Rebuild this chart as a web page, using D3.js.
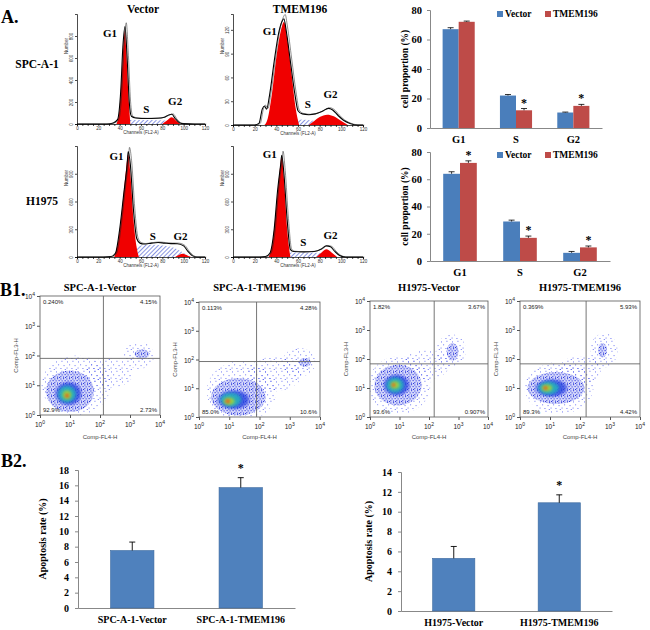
<!DOCTYPE html>
<html>
<head>
<meta charset="utf-8">
<script src="https://cdn.jsdelivr.net/npm/d3@7"></script>
<style>
body { margin: 0; background: #fff; }
svg { display: block; }
text { font-family: "Liberation Serif", "Times New Roman", serif; }
text.sans, text.sans tspan { font-family: "Liberation Sans", Arial, sans-serif; }
</style>
</head>
<body>
<svg id="fig" width="650" height="630"></svg>
<script>
/* global d3 */

// ---- A. cell cycle bar charts ----
var phases = ["G1", "S", "G2"];
var seriesNames = ["Vector", "TMEM196"];
var spcVector = [67, 22, 10.5];
var spcVectorErr = [1, 0.7, 0.3];
var spcTmem = [72, 12, 15];
var spcTmemErr = [0.5, 1.2, 1];
var spcStars = [false, true, true];
var h1975Vector = [64, 29, 6];
var h1975VectorErr = [1.5, 1, 1];
var h1975Tmem = [72, 17, 10];
var h1975TmemErr = [1.5, 1.3, 1];
var h1975Stars = [true, true, true];
var proportionTicks = [0, 20, 40, 60, 80];

// ---- A. DNA histograms: [channel, count] ----
var channelTicks = [0, 20, 40, 60, 80, 100, 120];
var spcVecOutline = [[0,0],[28,0],[34,10],[38,40],[41,300],[43,700],[45,885],[47,600],[49,200],[51,70],[55,55],[65,50],[75,52],[82,62],[86,82],[89,88],[92,50],[96,12],[100,3],[110,0],[120,0]];
var spcVecG1 = [[37,0],[40,150],[42,450],[44,780],[45,850],[46,700],[48,300],[50,0]];
var spcVecS = [[40,0],[43,30],[50,36],[70,36],[85,30],[92,10],[95,0]];
var spcVecG2 = [[80,0],[84,30],[89,62],[93,30],[97,0]];
var spcVecYTicks = [0, 200, 400, 600, 800];

var spcTmOutline = [[0,0],[20,0],[24,2],[27,20],[29,24],[31,20],[34,40],[38,80],[42,115],[45,130],[47,134],[49,120],[53,80],[57,40],[60,18],[64,14],[70,13],[76,14],[82,17],[88,21],[92,19],[97,12],[102,6],[108,2],[115,0],[120,0]];
var spcTmG1 = [[29,0],[32,8],[36,40],[40,85],[44,118],[47,130],[50,110],[54,65],[58,20],[61,0]];
var spcTmS = [[34,0],[38,6],[45,7],[60,7],[72,6],[80,3],[86,0]];
var spcTmG2 = [[70,0],[75,5],[80,10],[87,13],[93,11],[100,5],[106,0]];
var spcTmYTicks = [0, 30, 60, 90, 120];

var hVecOutline = [[0,0],[25,0],[32,5],[36,40],[40,300],[44,700],[47,1000],[48,1140],[50,1000],[53,500],[56,200],[59,150],[63,140],[70,150],[76,156],[82,150],[88,145],[94,144],[100,120],[104,60],[108,15],[112,0],[120,0]];
var hVecG1 = [[35,0],[39,200],[43,600],[46,950],[48,1110],[50,900],[53,400],[56,100],[58,0]];
var hVecS = [[44,0],[50,60],[56,110],[64,130],[72,132],[80,125],[88,110],[96,70],[102,30],[106,0]];
var hVecG2 = [[92,0],[96,25],[99,35],[103,20],[107,0]];
var hVecYTicks = [0, 300, 600, 900];

var hTmOutline = [[0,0],[25,0],[30,5],[34,40],[38,300],[41,700],[44,1000],[45,1100],[47,900],[50,400],[53,80],[56,60],[65,55],[75,60],[82,90],[86,120],[90,110],[94,60],[98,20],[104,0],[120,0]];
var hTmG1 = [[33,0],[37,200],[40,550],[43,920],[45,1080],[47,850],[50,300],[53,0]];
var hTmS = [[42,0],[46,40],[55,48],[70,48],[82,40],[90,20],[95,0]];
var hTmG2 = [[77,0],[81,40],[86,84],[91,50],[96,0]];
var hTmYTicks = [0, 300, 600, 900];

// phase label anchors [channel, count]
var spcVecLabels = [[31, 790], [65, 100], [92, 170]];
var spcTmLabels = [[34, 113], [69, 22], [90, 34]];
var hVecLabels = [[37, 1050], [71, 180], [97, 180]];
var hTmLabels = [[34, 1070], [65, 120], [90, 190]];

// ---- B1. annexin / PI scatter: quadrant percentages UL, UR, LL, LR ----
var decadeTicks = [1, 10, 100, 1000, 10000];
var spcVecQuad = ["0.240%", "4.15%", "92.9%", "2.73%"];
var spcTmQuad = ["0.113%", "4.28%", "85.0%", "10.6%"];
var hVecQuad = ["1.82%", "3.67%", "93.6%", "0.907%"];
var hTmQuad = ["0.369%", "5.93%", "89.3%", "4.42%"];
var spcVecGate = [130, 80];
var spcTmGate = [80, 85];
var hVecGate = [150, 68];
var hTmGate = [160, 68];
// density contours, outer -> inner: [log10 x, log10 y, half-width, half-height] in decades
var spcVecCore = [[1.2,1.0,1.15,1.0],[1.0,0.8,0.8,0.7],[0.95,0.72,0.5,0.45],[0.9,0.7,0.3,0.28],[0.9,0.68,0.15,0.15],[0.9,0.65,0.07,0.07]];
var spcVecLate = [[3.3,2.0,0.5,0.45],[3.4,2.05,0.25,0.15]];
var spcVecTail = [2.3, 1.4, 0.8, 0.5];
var spcTmCore = [[1.4,0.9,1.15,1.05],[1.3,0.7,0.9,0.65],[1.15,0.6,0.6,0.38],[1.05,0.6,0.35,0.24],[1.0,0.55,0.18,0.13],[0.95,0.55,0.08,0.07]];
var spcTmLate = [[3.3,1.9,0.55,0.5],[3.5,1.9,0.2,0.15]];
var spcTmTail = [2.5, 1.5, 0.9, 0.6];
var hVecCore = [[1.0,1.1,1.05,1.0],[0.95,1.1,0.8,0.7],[0.9,1.1,0.5,0.42],[0.85,1.1,0.3,0.26],[0.85,1.1,0.15,0.13],[0.8,1.1,0.07,0.06]];
var hVecLate = [[2.75,2.3,0.5,0.55],[2.8,2.25,0.2,0.3]];
var hVecTail = [1.9, 1.8, 0.8, 0.5];
var hTmCore = [[1.3,1.0,1.15,0.9],[1.2,1.0,0.95,0.55],[1.05,1.0,0.6,0.35],[0.95,1.0,0.35,0.22],[0.9,1.0,0.18,0.12],[0.85,1.0,0.08,0.06]];
var hTmLate = [[2.8,2.3,0.45,0.6],[2.75,2.3,0.15,0.25]];
var hTmTail = [2.0, 1.6, 0.7, 0.5];

// ---- B2. apoptosis rate ----
var spcGroups = ["SPC-A-1-Vector", "SPC-A-1-TMEM196"];
var spcApop = [7.5, 15.7];
var spcApopErr = [1.1, 1.3];
var spcApopStars = [false, true];
var spcApopTicks = [0, 2, 4, 6, 8, 10, 12, 14, 16, 18];
var hGroups = ["H1975-Vector", "H1975-TMEM196"];
var hApop = [5.3, 10.9];
var hApopErr = [1.2, 0.8];
var hApopStars = [false, true];
var hApopTicks = [0, 2, 4, 6, 8, 10, 12, 14];

var blue = "#4a7ebb", red = "#be4b48";
var svg = d3.select("#fig");
var defs = svg.append("defs");

// hatch for S phase
var hatch = defs.append("pattern").attr("id", "hatch")
    .attr("width", 3).attr("height", 3)
    .attr("patternUnits", "userSpaceOnUse")
    .attr("patternTransform", "rotate(45)");
hatch.append("rect").attr("width", 3).attr("height", 3).attr("fill", "#fff");
hatch.append("line").attr("x1", 0).attr("y1", 0).attr("x2", 0).attr("y2", 3)
    .attr("stroke", "#3b4fd0").attr("stroke-width", 1.2);

// speckle patterns for flow scatter (irregular dot tiles)
var sparse = defs.append("pattern").attr("id", "dots")
    .attr("width", 11).attr("height", 10).attr("patternUnits", "userSpaceOnUse");
[[1, 1.5], [6.5, 0.8], [3.2, 4.4], [8.6, 5.2], [0.6, 7.6], [5.5, 8.1], [9.8, 9.0]].forEach(function(p) {
    sparse.append("rect").attr("x", p[0]).attr("y", p[1]).attr("width", 0.9).attr("height", 0.9).attr("fill", "#4a55f0");
});
var dense = defs.append("pattern").attr("id", "dense")
    .attr("width", 6).attr("height", 6).attr("patternUnits", "userSpaceOnUse");
dense.append("rect").attr("width", 6).attr("height", 6).attr("fill", "#d4d7fb");
[[0.4, 0.5], [3.1, 0.2], [1.6, 2.4], [4.6, 2.1], [0.3, 4.2], [3.0, 4.6], [5.1, 5.0]].forEach(function(p) {
    dense.append("rect").attr("x", p[0]).attr("y", p[1]).attr("width", 1).attr("height", 1).attr("fill", "#1a28d8");
});
var blueGlow = defs.append("radialGradient").attr("id", "glow");
blueGlow.append("stop").attr("offset", "0%").attr("stop-color", "#1d3ee0").attr("stop-opacity", 1);
blueGlow.append("stop").attr("offset", "70%").attr("stop-color", "#2540e0").attr("stop-opacity", 0.75);
blueGlow.append("stop").attr("offset", "100%").attr("stop-color", "#3040e8").attr("stop-opacity", 0);

defs.append("filter").attr("id", "soft").attr("x", "-50%").attr("y", "-50%")
    .attr("width", "200%").attr("height", "200%")
    .append("feGaussianBlur").attr("stdDeviation", 1.8);
defs.append("filter").attr("id", "fuzz").attr("x", "-20%").attr("y", "-20%")
    .attr("width", "140%").attr("height", "140%")
    .append("feGaussianBlur").attr("stdDeviation", 0.5);

// panel letters
function bigLabel(t, x, y) {
    svg.append("text").attr("x", x).attr("y", y).attr("font-size", 18)
        .attr("font-weight", "bold").text(t);
}
bigLabel("A.", 1, 23);
bigLabel("B1.", 0, 296);
bigLabel("B2.", 1, 467);

function boldText(t, x, y, size, anchor) {
    return svg.append("text").attr("x", x).attr("y", y).attr("font-size", size)
        .attr("font-weight", "bold").attr("text-anchor", anchor || "middle").text(t);
}

// ---------- histograms ----------
boldText("Vector", 143, 13, 11.5);
boldText("TMEM196", 300, 13, 11.5);
boldText("SPC-A-1", 37, 68, 11.5);
boldText("H1975", 42, 205, 11.5);

function histogram(x0, x1, yb, yt, yMax, yTicks, outline, g1, sPhase, g2, labels) {
    var x = d3.scaleLinear().domain([0, 120]).range([x0, x1]);
    var y = d3.scaleLinear().domain([0, yMax]).range([yb, yt]);
    var g = svg.append("g");
    var area = d3.area().curve(d3.curveMonotoneX)
        .x(function(d) { return x(d[0]); })
        .y0(y(0))
        .y1(function(d) { return y(d[1]); });
    var line = d3.line().curve(d3.curveMonotoneX)
        .x(function(d) { return x(d[0]); })
        .y(function(d) { return y(d[1]); });

    g.append("path").datum(outline).attr("d", area).attr("fill", "#fff");
    g.append("path").datum(sPhase).attr("d", area).attr("fill", "url(#hatch)");
    g.append("path").datum(g1).attr("d", area).attr("fill", "#f00000");
    g.append("path").datum(g2).attr("d", area).attr("fill", "#f00000");
    g.append("path").datum(outline).attr("d", line).attr("fill", "none")
        .attr("stroke", "#000").attr("stroke-width", 1.1);
    g.append("path").datum(outline.map(function(d) { return [d[0] + 1.2, d[1] * 1.04]; }))
        .attr("d", line).attr("fill", "none").attr("stroke", "#222").attr("stroke-width", 0.5);

    var xa = g.append("g").attr("transform", "translate(0," + yb + ")")
        .call(d3.axisBottom(x).tickValues(d3.range(0, 121, 5)).tickSize(2)
            .tickFormat(function(d) { return channelTicks.indexOf(d) >= 0 ? d : ""; }));
    var ya = g.append("g").attr("transform", "translate(" + x0 + ",0)")
        .call(d3.axisLeft(y).tickValues(yTicks).tickSize(2));
    [xa, ya].forEach(function(a) {
        a.selectAll("path,line").attr("stroke", "#000").attr("stroke-width", 0.7);
        a.selectAll("text").attr("class", "sans").attr("font-size", 4.5).attr("fill", "#333");
    });
    ya.selectAll(".tick text").attr("transform", "rotate(-90)").attr("x", 0).attr("dy", 0)
        .attr("y", -4).attr("text-anchor", "middle");
    xa.selectAll(".tick text").attr("y", 3);
    g.append("text").attr("class", "sans").attr("x", (x0 + x1) / 2).attr("y", yb + 10)
        .attr("font-size", 4.5).attr("text-anchor", "middle").attr("fill", "#333")
        .text("Channels (FL2-A)");
    g.append("text").attr("class", "sans").attr("transform", "translate(" + (x0 - 9) + "," + (yt + 32) + ") rotate(-90)")
        .attr("font-size", 4.5).attr("text-anchor", "middle").attr("fill", "#333").text("Number");

    ["G1", "S", "G2"].forEach(function(p, i) {
        g.append("text").attr("x", x(labels[i][0])).attr("y", y(labels[i][1]))
            .attr("font-size", 11).attr("font-weight", "bold").attr("text-anchor", "middle").text(p);
    });
}
histogram(77, 205, 124, 14, 1000, spcVecYTicks, spcVecOutline, spcVecG1, spcVecS, spcVecG2, spcVecLabels);
histogram(233, 363, 125, 14, 140, spcTmYTicks, spcTmOutline, spcTmG1, spcTmS, spcTmG2, spcTmLabels);
histogram(77, 205, 257, 146, 1200, hVecYTicks, hVecOutline, hVecG1, hVecS, hVecG2, hVecLabels);
histogram(233, 363, 257, 146, 1200, hTmYTicks, hTmOutline, hTmG1, hTmS, hTmG2, hTmLabels);

// ---------- cell proportion bar charts ----------
function phaseChart(top, bottom, right, vec, vecErr, tm, tmErr, stars, legendY) {
    var left = 430;
    var x = d3.scaleBand().domain(phases).range([left, right]).paddingInner(0.44).paddingOuter(0.22);
    var x1 = d3.scaleBand().domain(seriesNames).range([0, x.bandwidth()]);
    var y = d3.scaleLinear().domain([0, 80]).range([bottom, top]);
    var g = svg.append("g");
    var rows = phases.map(function(p, i) {
        return [{ p: p, s: "Vector", v: vec[i], e: vecErr[i], star: false },
                { p: p, s: "TMEM196", v: tm[i], e: tmErr[i], star: stars[i] }];
    });
    var flat = [].concat.apply([], rows);

    var ya = g.append("g").attr("transform", "translate(" + left + ",0)")
        .call(d3.axisLeft(y).tickValues(proportionTicks).tickSize(3).tickPadding(5));
    var xa = g.append("g").attr("transform", "translate(0," + bottom + ")")
        .call(d3.axisBottom(x).tickSize(0).tickPadding(8));
    [xa, ya].forEach(function(a) {
        a.selectAll("path,line").attr("stroke", "#888");
        a.selectAll("text").attr("font-size", 10.5).attr("font-weight", "bold").attr("fill", "#000");
    });

    g.selectAll(".bar").data(flat).enter().append("rect")
        .attr("x", function(d) { return x(d.p) + x1(d.s); })
        .attr("y", function(d) { return y(d.v); })
        .attr("width", x1.bandwidth())
        .attr("height", function(d) { return bottom - y(d.v); })
        .attr("fill", function(d) { return d.s === "Vector" ? blue : red; });
    g.selectAll(".err").data(flat).enter().append("path")
        .attr("d", function(d) {
            var cx = x(d.p) + x1(d.s) + x1.bandwidth() / 2;
            return "M" + cx + "," + y(d.v) + "V" + y(d.v + d.e) + "M" + (cx - 3) + "," + y(d.v + d.e) + "H" + (cx + 3);
        })
        .attr("stroke", "#000").attr("stroke-width", 0.8).attr("fill", "none");
    g.selectAll(".star").data(flat.filter(function(d) { return d.star; })).enter().append("text")
        .attr("x", function(d) { return x(d.p) + x1(d.s) + x1.bandwidth() / 2; })
        .attr("y", function(d) { return y(d.v + d.e) - 2; })
        .attr("text-anchor", "middle").attr("font-size", 12).attr("font-weight", "bold").text("*");

    g.append("text").attr("transform", "translate(408," + (top + bottom) / 2 + ") rotate(-90)")
        .attr("text-anchor", "middle").attr("font-size", 9.5).attr("font-weight", "bold")
        .text("cell proportion  (%)");

    var lg = g.selectAll(".lg").data(seriesNames).enter().append("g")
        .attr("transform", function(d, i) { return "translate(" + (497 + i * 48) + "," + legendY + ")"; });
    lg.append("rect").attr("y", -6).attr("width", 6).attr("height", 6)
        .attr("fill", function(d, i) { return i === 0 ? blue : red; });
    lg.append("text").attr("x", 8).attr("y", 0).attr("font-size", 9.5).attr("font-weight", "bold").text(function(d) { return d; });
}
phaseChart(10, 128, 602, spcVector, spcVectorErr, spcTmem, spcTmemErr, spcStars, 17);
phaseChart(152, 261, 610, h1975Vector, h1975VectorErr, h1975Tmem, h1975TmemErr, h1975Stars, 158);

// ---------- flow scatter plots ----------
var levelFill = ["url(#dots)", "url(#dense)", "url(#glow)", "#26c0b8", "#a8dc30", "#f04a1c"];
var levelOpacity = [1, 1, 1, 0.8, 0.85, 0.9];

function flowPlot(title, bx0, bx1, by0, by1, gate, quad, core, late, tail) {
    var x = d3.scaleLog().domain([1, 10000]).range([bx0, bx1]);
    var y = d3.scaleLog().domain([1, 10000]).range([by1, by0]);
    var id = "clip" + bx0;
    defs.append("clipPath").attr("id", id).append("rect")
        .attr("x", bx0).attr("y", by0).attr("width", bx1 - bx0).attr("height", by1 - by0);
    var g = svg.append("g");
    var plot = g.append("g").attr("clip-path", "url(#" + id + ")");

    function ell(c) {
        var cx = x(Math.pow(10, c[0])), cy = y(Math.pow(10, c[1]));
        return { cx: cx, cy: cy,
            rx: x(Math.pow(10, c[0] + c[2])) - cx,
            ry: cy - y(Math.pow(10, c[1] + c[3])) };
    }
    function drawEll(c, i) {
        var e = ell(c);
        plot.append("ellipse").attr("cx", e.cx).attr("cy", e.cy).attr("rx", e.rx).attr("ry", e.ry)
            .attr("fill", levelFill[i]).attr("opacity", levelOpacity[i])
            .attr("filter", i > 2 ? "url(#soft)" : (i === 1 ? "url(#fuzz)" : null));
    }
    drawEll(tail, 0);
    core.forEach(function(c, i) { drawEll(c, i); });
    late.forEach(function(c, i) { drawEll(c, i); });

    g.append("rect").attr("x", bx0).attr("y", by0).attr("width", bx1 - bx0).attr("height", by1 - by0)
        .attr("fill", "none").attr("stroke", "#555").attr("stroke-width", 0.8);
    g.append("line").attr("x1", x(gate[0])).attr("x2", x(gate[0])).attr("y1", by0).attr("y2", by1)
        .attr("stroke", "#666").attr("stroke-width", 0.9);
    g.append("line").attr("x1", bx0).attr("x2", bx1).attr("y1", y(gate[1])).attr("y2", y(gate[1]))
        .attr("stroke", "#666").attr("stroke-width", 0.9);

    var qpos = [[bx0 + 3, by0 + 8, "start"], [bx1 - 3, by0 + 8, "end"], [bx0 + 3, by1 - 3, "start"], [bx1 - 3, by1 - 3, "end"]];
    quad.forEach(function(q, i) {
        g.append("text").attr("class", "sans").attr("x", qpos[i][0]).attr("y", qpos[i][1])
            .attr("text-anchor", qpos[i][2]).attr("font-size", 6).attr("fill", "#222").text(q);
    });

    function pow(t, d) {
        var k = Math.round(Math.log10(d));
        t.text("10").append("tspan").attr("dy", -3).attr("font-size", 5).text(k);
    }
    var xa = g.append("g").attr("transform", "translate(0," + by1 + ")")
        .call(d3.axisBottom(x).tickValues(decadeTicks).tickSize(3).tickFormat(""));
    var ya = g.append("g").attr("transform", "translate(" + bx0 + ",0)")
        .call(d3.axisLeft(y).tickValues(decadeTicks).tickSize(3).tickFormat(""));
    [xa, ya].forEach(function(a) {
        a.select(".domain").remove();
        a.selectAll("line").attr("stroke", "#555");
    });
    decadeTicks.forEach(function(d) {
        g.append("text").attr("class", "sans").attr("x", x(d)).attr("y", by1 + 12)
            .attr("text-anchor", "middle").attr("font-size", 6.5).attr("fill", "#222").call(pow, d);
        g.append("text").attr("class", "sans").attr("x", bx0 - 5).attr("y", y(d) + 3)
            .attr("text-anchor", "end").attr("font-size", 6.5).attr("fill", "#222").call(pow, d);
    });
    g.append("text").attr("class", "sans").attr("x", (bx0 + bx1) / 2).attr("y", 439)
        .attr("text-anchor", "middle").attr("font-size", 6).attr("fill", "#444").text("Comp-FL4-H");
    g.append("text").attr("class", "sans").attr("transform", "translate(" + (bx0 - 22) + "," + (by0 + by1) / 2 + ") rotate(-90)")
        .attr("text-anchor", "middle").attr("font-size", 6).attr("fill", "#444").text("Comp-FL3-H");
    boldText(title, (bx0 + bx1) / 2, 291, 10.5);
}
flowPlot("SPC-A-1-Vector", 40, 160, 296, 415, spcVecGate, spcVecQuad, spcVecCore, spcVecLate, spcVecTail);
flowPlot("SPC-A-1-TMEM196", 199, 320, 302, 417, spcTmGate, spcTmQuad, spcTmCore, spcTmLate, spcTmTail);
flowPlot("H1975-Vector", 370, 488, 301, 417, hVecGate, hVecQuad, hVecCore, hVecLate, hVecTail);
flowPlot("H1975-TMEM196", 520, 640, 301, 417, hTmGate, hTmQuad, hTmCore, hTmLate, hTmTail);

// ---------- apoptosis bar charts ----------
function apopChart(left, right, top, bottom, groups, vals, errs, stars, ticks, labelX) {
    var yMax = ticks[ticks.length - 1];
    var x = d3.scaleBand().domain(groups).range([left, right]).paddingInner(0.6).paddingOuter(0.3);
    var y = d3.scaleLinear().domain([0, yMax]).range([bottom, top]);
    var g = svg.append("g");
    var rows = groups.map(function(gname, i) { return { g: gname, v: vals[i], e: errs[i], star: stars[i] }; });

    var ya = g.append("g").attr("transform", "translate(" + left + ",0)")
        .call(d3.axisLeft(y).tickValues(ticks).tickSize(3).tickPadding(6));
    var xa = g.append("g").attr("transform", "translate(0," + bottom + ")")
        .call(d3.axisBottom(x).tickSize(0).tickPadding(8));
    [xa, ya].forEach(function(a) {
        a.selectAll("path,line").attr("stroke", "#888");
        a.selectAll("text").attr("font-size", 10).attr("font-weight", "bold").attr("fill", "#000");
    });
    g.selectAll(".bar").data(rows).enter().append("rect")
        .attr("x", function(d) { return x(d.g); })
        .attr("y", function(d) { return y(d.v); })
        .attr("width", x.bandwidth())
        .attr("height", function(d) { return bottom - y(d.v); })
        .attr("fill", "#4f81bd").attr("stroke", "#3d6a9e").attr("stroke-width", 0.6);
    g.selectAll(".err").data(rows).enter().append("path")
        .attr("d", function(d) {
            var cx = x(d.g) + x.bandwidth() / 2;
            return "M" + cx + "," + y(d.v) + "V" + y(d.v + d.e) + "M" + (cx - 3) + "," + y(d.v + d.e) + "H" + (cx + 3);
        })
        .attr("stroke", "#000").attr("stroke-width", 0.9).attr("fill", "none");
    g.selectAll(".star").data(rows.filter(function(d) { return d.star; })).enter().append("text")
        .attr("x", function(d) { return x(d.g) + x.bandwidth() / 2; })
        .attr("y", function(d) { return y(d.v + d.e) - 6; })
        .attr("text-anchor", "middle").attr("font-size", 12).attr("font-weight", "bold").text("*");
    g.append("text").attr("transform", "translate(" + labelX + "," + (top + bottom) / 2 + ") rotate(-90)")
        .attr("text-anchor", "middle").attr("font-size", 10).attr("font-weight", "bold")
        .text("Apoptosis  rate (%)");
}
apopChart(78, 295, 470, 608, spcGroups, spcApop, spcApopErr, spcApopStars, spcApopTicks, 46);
apopChart(401, 612, 472, 611, hGroups, hApop, hApopErr, hApopStars, hApopTicks, 372);
</script>
</body>
</html>
